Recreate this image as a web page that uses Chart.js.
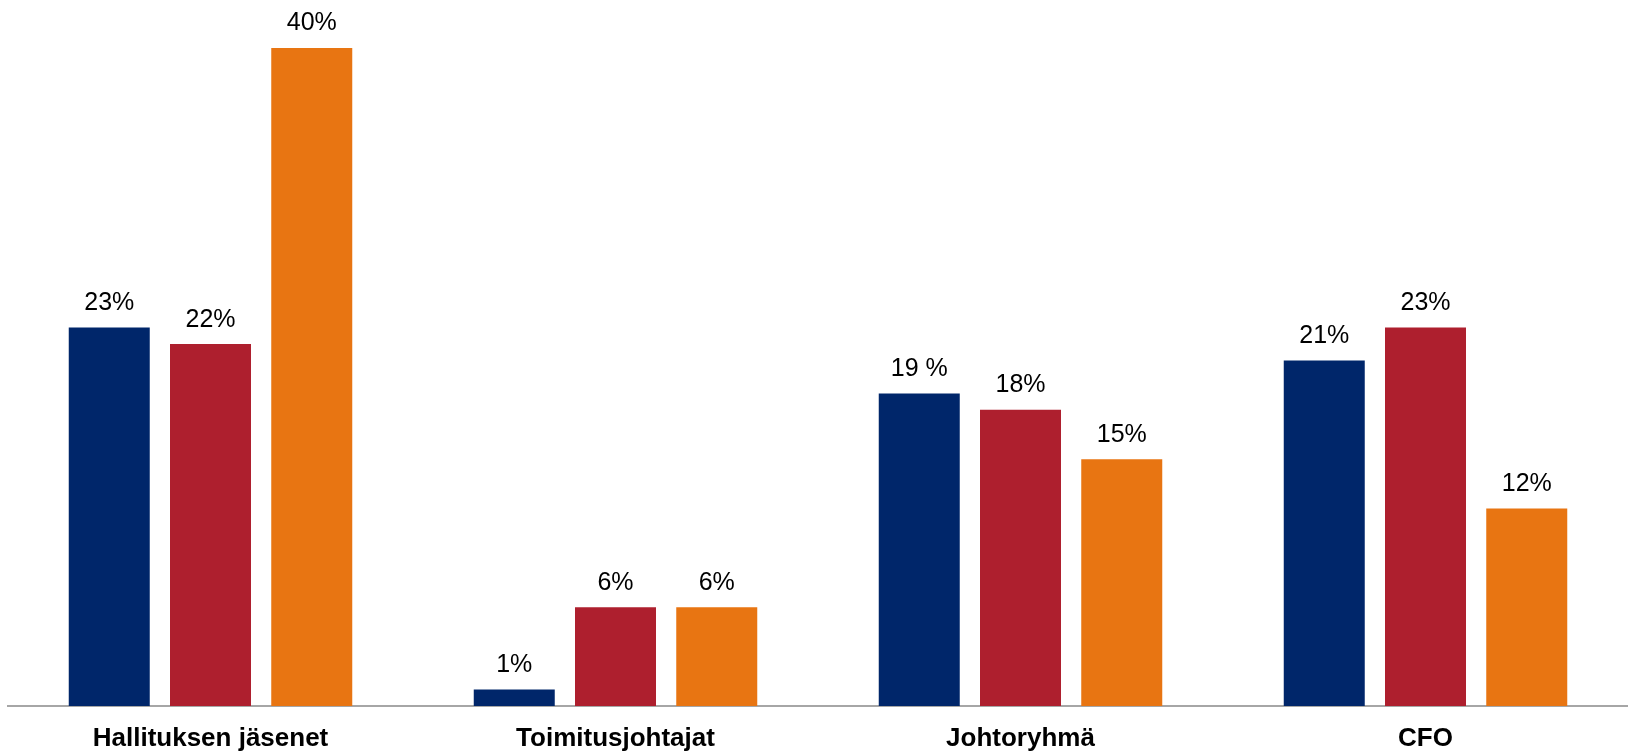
<!DOCTYPE html>
<html lang="fi">
<head>
<meta charset="utf-8">
<title>Naisten osuus</title>
<script src="https://cdn.jsdelivr.net/npm/chart.js@4/dist/chart.umd.min.js"></script>
<style>
  html, body { margin: 0; padding: 0; background: #ffffff; }
  #wrap { width: 1628px; height: 754px; }
</style>
</head>
<body>
<div id="wrap"><canvas id="chart" width="1628" height="754"></canvas></div>
<script>
// Categories along the x axis
const categories = ['Hallituksen jäsenet', 'Toimitusjohtajat', 'Johtoryhmä', 'CFO'];

// Series values (%)
const seriesA = [23, 1, 19, 21];
const seriesB = [22, 6, 18, 23];
const seriesC = [40, 6, 15, 12];

// Value labels written with a space before the percent sign: [series, index]
const spacedLabels = [[0, 2]];

const colors = ['#00266A', '#AE1F2E', '#E87512'];

function labelText(value, dsIndex, index) {
  const spaced = spacedLabels.some(([s, i]) => s === dsIndex && i === index);
  return value + (spaced ? ' %' : '%');
}

// Draws each bar's value above it
const valueLabels = {
  id: 'valueLabels',
  afterDatasetsDraw(chart) {
    const ctx = chart.ctx;
    ctx.save();
    ctx.font = '25px "Liberation Sans", Arial, sans-serif';
    ctx.fillStyle = '#000000';
    ctx.textAlign = 'center';
    ctx.textBaseline = 'alphabetic';
    chart.data.datasets.forEach((ds, di) => {
      const meta = chart.getDatasetMeta(di);
      meta.data.forEach((bar, i) => {
        ctx.fillText(labelText(ds.data[i], di, i), bar.x, bar.y - 17.5);
      });
    });
    ctx.restore();
  }
};

new Chart(document.getElementById('chart'), {
  type: 'bar',
  data: {
    labels: categories,
    datasets: [
      { label: 'Sarja A', data: seriesA, backgroundColor: colors[0] },
      { label: 'Sarja B', data: seriesB, backgroundColor: colors[1] },
      { label: 'Sarja C', data: seriesC, backgroundColor: colors[2] }
    ]
  },
  options: {
    responsive: false,
    animation: false,
    events: [],
    layout: { padding: { left: 8, right: 0, top: 15, bottom: 0 } },
    datasets: {
      bar: { categoryPercentage: 0.75, barPercentage: 0.8 }
    },
    plugins: {
      legend: { display: false },
      tooltip: { enabled: false },
      title: { display: false }
    },
    scales: {
      x: {
        grid: { display: false, drawTicks: false },
        border: { display: true, color: '#a6a6a6', width: 2 },
        ticks: {
          color: '#000000',
          padding: 17,
          maxRotation: 0,
          font: { family: '"Liberation Sans", Arial, sans-serif', size: 26, weight: 'bold' }
        },
        afterFit(scale) { scale.height = 48; }
      },
      y: {
        display: false,
        min: 0,
        max: 42
      }
    }
  },
  plugins: [valueLabels]
});
</script>
</body>
</html>
